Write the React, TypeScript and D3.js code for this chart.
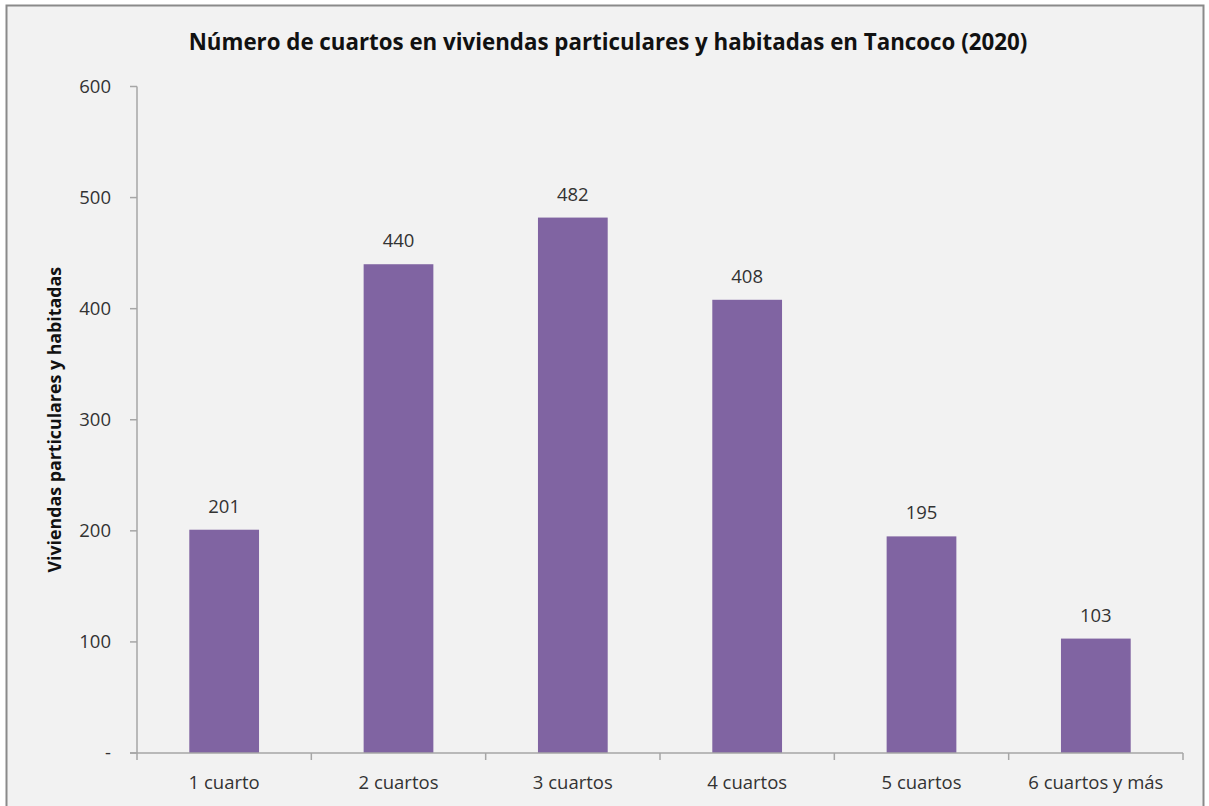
import React from "react";
import * as d3 from "d3";

const categories = ["1 cuarto", "2 cuartos", "3 cuartos", "4 cuartos", "5 cuartos", "6 cuartos y más"];
const values = [201, 440, 482, 408, 195, 103];
const yTicks = [0, 100, 200, 300, 400, 500, 600];
const title = "Número de cuartos en viviendas particulares y habitadas en Tancoco (2020)";
const yLabel = "Viviendas particulares y habitadas";

const W = 1209;
const H = 806;
const left = 137;
const right = 1183;
const top = 86.5;
const bottom = 753;
const FONT = "'Open Sans', 'Noto Sans', sans-serif";

export default function App() {
  const x = d3.scaleBand<string>().domain(categories).range([left, right]).paddingInner(0.6).paddingOuter(0.3);
  const xb = d3.scaleBand<string>().domain(categories).range([left, right]).padding(0);
  const y = d3.scaleLinear().domain([0, 600]).range([bottom, top]);
  const fmt = (v: number) => (v === 0 ? "-" : d3.format("d")(v));

  return (
    <svg width={W} height={H} style={{ position: "absolute", left: 0, top: 0 }} fontFamily={FONT}>
      <rect x={0} y={0} width={W} height={H} fill="#ffffff" />
      <rect x={6.5} y={5.5} width={1197} height={830} fill="#f2f2f2" stroke="#8a8a8a" strokeWidth={2} />
      <text x={608} y={50} textAnchor="middle" fontSize={22.3} fontWeight="bold" fill="#111">
        {title}
      </text>
      <text
        transform={`translate(61,${(top + bottom) / 2}) rotate(-90)`}
        textAnchor="middle"
        fontSize={17.8}
        fontWeight="bold"
        fill="#111"
      >
        {yLabel}
      </text>
      {/* y axis */}
      <line x1={left} x2={left} y1={top} y2={bottom} stroke="#a6a6a6" strokeWidth={1.5} />
      {yTicks.map((t) => (
        <g key={t}>
          <line x1={left - 7} x2={left} y1={y(t)} y2={y(t)} stroke="#a6a6a6" strokeWidth={1.5} />
          <text x={111} y={y(t)} dy="0.35em" textAnchor="end" fontSize={18.5} fill="#333">
            {fmt(t)}
          </text>
        </g>
      ))}
      {/* bars */}
      {categories.map((c, i) => (
        <rect key={c} x={x(c)} y={y(values[i])} width={x.bandwidth()} height={bottom - y(values[i])} fill="#8064a2" />
      ))}
      {/* x axis */}
      <line x1={left - 7} x2={right} y1={bottom} y2={bottom} stroke="#a6a6a6" strokeWidth={1.5} />
      {categories.map((c) => (
        <line key={c} x1={(xb(c) as number) + xb.bandwidth()} x2={(xb(c) as number) + xb.bandwidth()} y1={bottom} y2={bottom + 7} stroke="#a6a6a6" strokeWidth={1.5} />
      ))}
      <line x1={left} x2={left} y1={bottom} y2={bottom + 7} stroke="#a6a6a6" strokeWidth={1.5} />
      {categories.map((c) => (
        <text key={c} x={(xb(c) as number) + xb.bandwidth() / 2} y={789} textAnchor="middle" fontSize={18.5} fill="#333">
          {c}
        </text>
      ))}
      {/* data labels */}
      {categories.map((c, i) => (
        <text key={c} x={(x(c) as number) + x.bandwidth() / 2} y={y(values[i]) - 17} textAnchor="middle" fontSize={18.5} fill="#333">
          {values[i]}
        </text>
      ))}
    </svg>
  );
}
